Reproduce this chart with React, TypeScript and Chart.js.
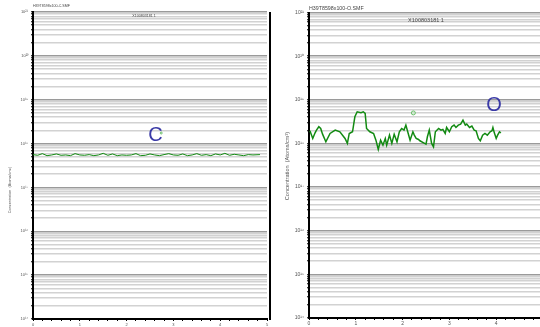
import React, { useEffect, useRef } from "react";
import { Chart, registerables } from "chart.js";

Chart.register(...registerables);

// ---------- data ----------
const xTickUnits = [0, 1, 2, 3, 4, 5];
const decadeExponents = [14, 15, 16, 17, 18, 19, 20, 21];
const decadeLabels = ["10¹⁴", "10¹⁵", "10¹⁶", "10¹⁷", "10¹⁸", "10¹⁹", "10²⁰", "10²¹"];
const minorMantissas = [1, 2, 3, 4, 5, 6, 7, 8, 9];

const leftTitle = "H39T8598x100-C.SMF";
const rightTitle = "H39T8598x100-O.SMF";
const legendLabel = "X100803181 1";
const yAxisTitle = "Concentration  (Atoms/cm³)";
const leftElement = "C";
const rightElement = "O";

const leftDepth = [
  0, 0.1, 0.2, 0.3, 0.4, 0.5, 0.6, 0.7, 0.8, 0.9, 1.0, 1.1, 1.2, 1.3, 1.4, 1.5, 1.6,
  1.7, 1.8, 1.9, 2.0, 2.1, 2.2, 2.3, 2.4, 2.5, 2.6, 2.7, 2.8, 2.9, 3.0, 3.1, 3.2, 3.3,
  3.4, 3.5, 3.6, 3.7, 3.8, 3.9, 4.0, 4.1, 4.2, 4.3, 4.4, 4.5, 4.6, 4.7, 4.85,
];
const leftConc = [
  5.6e17, 5.4e17, 5.9e17, 5.3e17, 5.5e17, 5.8e17, 5.4e17, 5.5e17, 5.3e17, 5.9e17,
  5.5e17, 5.4e17, 5.6e17, 5.3e17, 5.5e17, 6.0e17, 5.4e17, 5.8e17, 5.3e17, 5.5e17,
  5.4e17, 5.5e17, 5.9e17, 5.3e17, 5.4e17, 5.8e17, 5.5e17, 5.3e17, 5.6e17, 5.9e17,
  5.5e17, 5.4e17, 5.8e17, 5.3e17, 5.5e17, 5.9e17, 5.4e17, 5.6e17, 5.3e17, 5.8e17,
  5.5e17, 6.0e17, 5.4e17, 5.7e17, 5.5e17, 5.3e17, 5.6e17, 5.5e17, 5.6e17,
];
const leftMarkerDepth = [2.74];
const leftMarkerConc = [1.74e18];

const rightDepth = [
  0.02, 0.08, 0.13, 0.16, 0.21, 0.25, 0.29, 0.36, 0.45, 0.56, 0.66, 0.77, 0.82, 0.86,
  0.93, 0.98, 1.03, 1.11, 1.16, 1.2, 1.23, 1.3, 1.38, 1.43, 1.48, 1.53, 1.58, 1.63,
  1.66, 1.72, 1.77, 1.82, 1.88, 1.93, 1.98, 2.03, 2.07, 2.12, 2.16, 2.22, 2.25, 2.29,
  2.34, 2.37, 2.45, 2.5, 2.53, 2.57, 2.62, 2.66, 2.7, 2.77, 2.82, 2.86, 2.91, 2.94,
  3.0, 3.05, 3.1, 3.14, 3.19, 3.24, 3.29, 3.34, 3.37, 3.43, 3.48, 3.53, 3.57, 3.62,
  3.66, 3.71, 3.76, 3.81, 3.87, 3.91, 3.93, 3.96, 4.0, 4.03, 4.07, 4.1,
];
const rightConc = [
  1.95e18, 1.3e18, 1.75e18, 2.02e18, 2.41e18, 2.2e18, 1.63e18, 1.09e18, 1.69e18, 2.02e18,
  1.85e18, 1.3e18, 1.0e18, 1.69e18, 1.85e18, 4.08e18, 5.31e18, 5.05e18, 5.31e18, 4.87e18,
  2.2e18, 1.85e18, 1.69e18, 1.19e18, 7.28e17, 1.19e18, 9.14e17, 1.3e18, 9.14e17, 1.55e18,
  1.0e18, 1.63e18, 1.09e18, 1.85e18, 2.2e18, 2.02e18, 2.63e18, 1.69e18, 1.19e18, 1.85e18,
  1.55e18, 1.3e18, 1.23e18, 1.15e18, 1.03e18, 9.64e17, 1.42e18, 2.02e18, 1.0e18, 8.37e17,
  1.85e18, 2.2e18, 2.02e18, 2.09e18, 1.69e18, 2.32e18, 1.85e18, 2.41e18, 2.63e18, 2.32e18,
  2.63e18, 2.77e18, 3.42e18, 2.63e18, 2.77e18, 2.32e18, 2.49e18, 2.02e18, 1.95e18, 1.3e18,
  1.15e18, 1.55e18, 1.69e18, 1.55e18, 1.85e18, 1.95e18, 2.32e18, 1.75e18, 1.3e18, 1.55e18,
  1.85e18, 1.75e18,
];
const rightMarkerDepth = [2.23];
const rightMarkerConc = [5.0e18];

// ---------- helpers ----------
const yTickValues: number[] = [];
decadeExponents.forEach((e, i) => {
  if (i === decadeExponents.length - 1) {
    yTickValues.push(Math.pow(10, e));
  } else {
    minorMantissas.forEach((m) => yTickValues.push(m * Math.pow(10, e)));
  }
});

const isDecade = (v: number) => {
  const l = Math.log10(v);
  return Math.abs(l - Math.round(l)) < 1e-6;
};
const decadeLabel = (v: number) => {
  if (!isDecade(v)) return "";
  const idx = decadeExponents.indexOf(Math.round(Math.log10(v)));
  return idx >= 0 ? decadeLabels[idx] : "";
};

type PanelCfg = {
  width: number;
  height: number;
  yWidth: number;
  xHeight: number;
  padTop: number;
  padRight: number;
  tickFont: number;
  depth: number[];
  conc: number[];
  markerDepth: number[];
  markerConc: number[];
  lineWidth: number;
  markerRadius: number;
  extras: (chart: any) => void;
};

function Panel({ cfg, left }: { cfg: PanelCfg; left: number }) {
  const ref = useRef<HTMLCanvasElement | null>(null);
  useEffect(() => {
    if (!ref.current) return;
    const chart = new Chart(ref.current, {
      type: "line",
      data: {
        datasets: [
          {
            data: cfg.depth.map((x, i) => ({ x, y: cfg.conc[i] })),
            borderColor: "#128a12",
            borderWidth: cfg.lineWidth,
            pointRadius: 0,
            tension: 0,
            fill: false,
          },
          {
            data: cfg.markerDepth.map((x, i) => ({ x, y: cfg.markerConc[i] })),
            showLine: false,
            pointRadius: cfg.markerRadius,
            pointBorderWidth: 1,
            pointBorderColor: "#6cbf6c",
            pointBackgroundColor: "rgba(200,235,200,0.6)",
          },
        ],
      },
      options: {
        responsive: false,
        animation: false,
        events: [],
        layout: { padding: { top: cfg.padTop, right: cfg.padRight, left: 0, bottom: 0 } },
        plugins: { legend: { display: false }, tooltip: { enabled: false }, title: { display: false } },
        scales: {
          x: {
            type: "linear",
            min: xTickUnits[0],
            max: xTickUnits[xTickUnits.length - 1],
            afterFit: (s: any) => {
              s.height = cfg.xHeight;
            },
            border: { display: true, color: "#000", width: 2 },
            grid: { drawOnChartArea: false, drawTicks: true, tickLength: 2, tickColor: "#000", tickWidth: 1 },
            ticks: {
              stepSize: 0.2,
              autoSkip: false,
              maxRotation: 0,
              padding: 1,
              color: "#555",
              font: { size: cfg.tickFont, family: "Liberation Sans, Arial" },
              callback: (v: any) => {
                const n = Number(v);
                return Math.abs(n - Math.round(n)) < 1e-6 && xTickUnits.includes(Math.round(n))
                  ? String(Math.round(n))
                  : "";
              },
            },
          },
          y: {
            type: "logarithmic",
            min: Math.pow(10, decadeExponents[0]),
            max: Math.pow(10, decadeExponents[decadeExponents.length - 1]),
            afterFit: (s: any) => {
              s.width = cfg.yWidth;
            },
            afterBuildTicks: (s: any) => {
              s.ticks = yTickValues.map((v) => ({ value: v }));
            },
            border: { display: true, color: "#000", width: 2 },
            grid: {
              color: (c: any) => (c.tick && isDecade(c.tick.value) ? "#9a9a9a" : "#d2d2d2"),
              lineWidth: 1.5,
              tickLength: 2,
              tickColor: "#000",
              tickWidth: 1,
            },
            ticks: {
              autoSkip: false,
              padding: 3,
              color: "#555",
              font: { size: cfg.tickFont, family: "Liberation Sans, Arial" },
              callback: (v: any) => decadeLabel(Number(v)),
            },
          },
        },
      },
      plugins: [{ id: "extras", afterDraw: (c: any) => cfg.extras(c) }],
    } as any);
    return () => chart.destroy();
  }, []);
  return (
    <canvas
      ref={ref}
      width={cfg.width}
      height={cfg.height}
      style={{ position: "absolute", left, top: 0, width: cfg.width, height: cfg.height }}
    />
  );
}

const FONT = "Liberation Sans, Arial, sans-serif";

const drawText = (
  ctx: CanvasRenderingContext2D,
  text: string,
  x: number,
  y: number,
  size: number,
  color: string,
  align: CanvasTextAlign,
  rotate = 0
) => {
  ctx.save();
  ctx.translate(x, y);
  if (rotate) ctx.rotate(rotate);
  ctx.font = `${size}px ${FONT}`;
  ctx.fillStyle = color;
  ctx.textAlign = align;
  ctx.textBaseline = "middle";
  ctx.fillText(text, 0, 0);
  ctx.restore();
};

const leftCfg: PanelCfg = {
  width: 272,
  height: 327,
  yWidth: 33,
  xHeight: 8,
  padTop: 12,
  padRight: 4,
  tickFont: 4,
  depth: leftDepth,
  conc: leftConc,
  markerDepth: leftMarkerDepth,
  markerConc: leftMarkerConc,
  lineWidth: 1,
  markerRadius: 1,
  extras: (chart: any) => {
    const ctx = chart.ctx as CanvasRenderingContext2D;
    const a = chart.chartArea;
    drawText(ctx, leftTitle, a.left, 6, 3.6, "#444", "left");
    drawText(ctx, legendLabel, 144, 15.5, 3.6, "#444", "center");
    drawText(ctx, leftElement, 155.5, 135, 20, "#3a3aa6", "center");
    drawText(ctx, yAxisTitle, 10, 190, 3.8, "#555", "center", -Math.PI / 2);
    ctx.save();
    ctx.fillStyle = "#000";
    ctx.fillRect(269, a.top, 2, a.bottom - a.top + 1);
    ctx.restore();
  },
};

const rightCfg: PanelCfg = {
  width: 276,
  height: 327,
  yWidth: 37,
  xHeight: 9,
  padTop: 12.5,
  padRight: 4,
  tickFont: 5,
  depth: rightDepth,
  conc: rightConc,
  markerDepth: rightMarkerDepth,
  markerConc: rightMarkerConc,
  lineWidth: 1.5,
  markerRadius: 2,
  extras: (chart: any) => {
    const ctx = chart.ctx as CanvasRenderingContext2D;
    const a = chart.chartArea;
    drawText(ctx, rightTitle, a.left, 9, 5.3, "#444", "left");
    drawText(ctx, legendLabel, 154, 20, 5.5, "#444", "center");
    drawText(ctx, rightElement, 222, 105, 20, "#3a3aa6", "center");
    drawText(ctx, yAxisTitle, 15, 166, 5.6, "#555", "center", -Math.PI / 2);
  },
};

export default function App() {
  return (
    <div
      style={{
        position: "fixed",
        left: 0,
        top: 0,
        width: 540,
        height: 327,
        overflow: "hidden",
        background: "#fff",
      }}
    >
      <Panel cfg={leftCfg} left={0} />
      <Panel cfg={rightCfg} left={272} />
    </div>
  );
}
